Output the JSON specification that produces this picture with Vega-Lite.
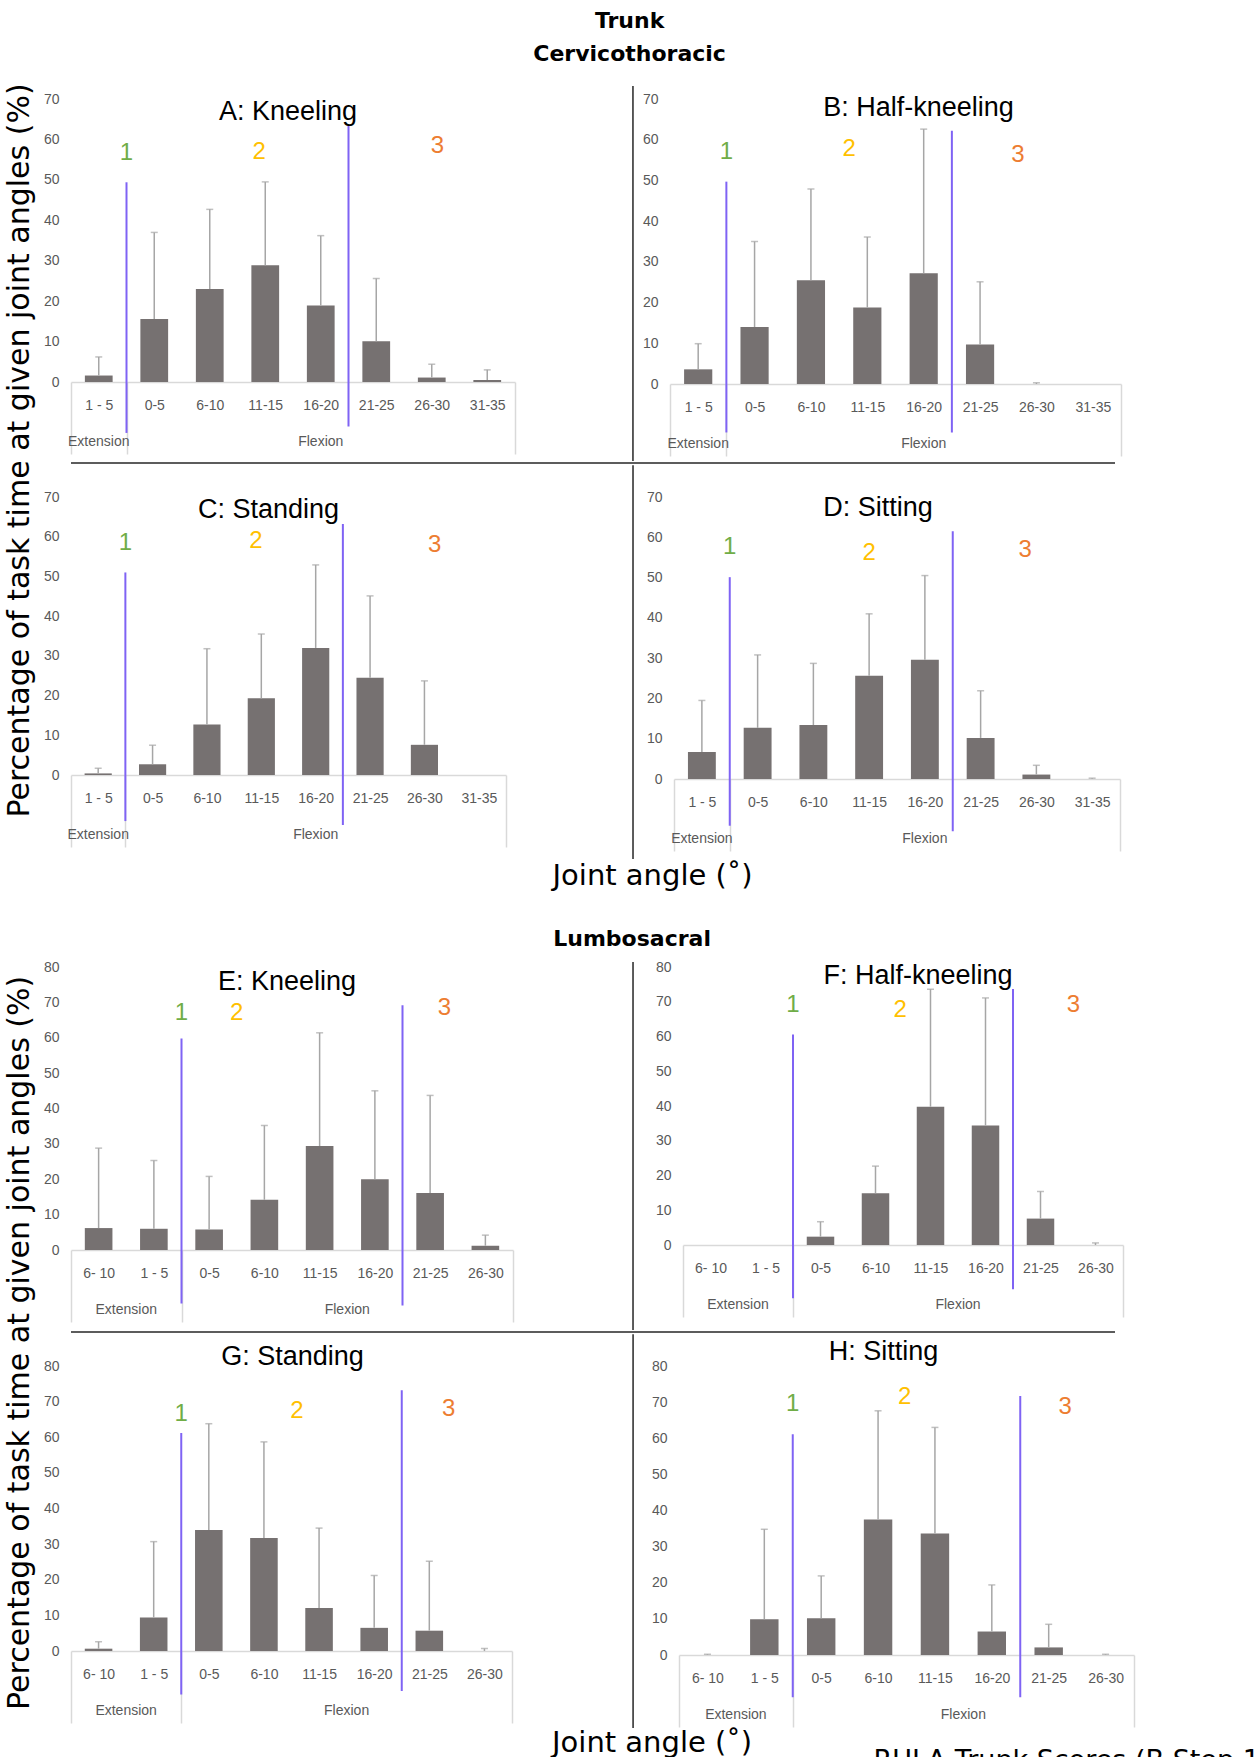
{
"$schema": "https://vega.github.io/schema/vega-lite/v6.json",
"background": "white",
"padding": {"left": 5, "top": 10, "right": 5, "bottom": 0},
"title": {"text": "RULA Trunk Scores (B Step 1)", "orient": "bottom", "anchor": "start", "frame": "bounds", "dx": 868, "offset": -10, "font": "DejaVu Sans", "fontSize": 27, "fontWeight": "normal", "color": "#000000"},
"config": {
  "view": {"stroke": null},
  "axis": {"labelFont": "Liberation Sans", "labelColor": "#595959", "grid": false},
  "axisX": {"labelFontSize": 14, "labelAngle": 0, "labelPadding": -56, "domainColor": "#d9d9d9", "domainWidth": 1.5, "tickColor": "#d9d9d9", "tickWidth": 1.5, "tickSize": 72, "tickBand": "extent"},
  "axisY": {"labelFontSize": 14, "labelPadding": 12, "domain": false, "ticks": false, "labelOverlap": false},
  "bar": {"color": "#767171"},
  "title": {"font": "Liberation Sans", "fontSize": 27, "fontWeight": "normal", "color": "#000000", "frame": "group", "anchor": "middle"},
  "text": {"font": "Liberation Sans", "fontSize": 14, "color": "#595959"}
},
"datasets": {
  "A": [
    {"cat": "1 - 5", "mean": 1.6, "err": 6.2, "glabel": "Extension"},
    {"cat": "0-5", "mean": 15.6, "err": 37.0, "glabel": ""},
    {"cat": "6-10", "mean": 23.0, "err": 42.7, "glabel": ""},
    {"cat": "11-15", "mean": 28.9, "err": 49.5, "glabel": ""},
    {"cat": "16-20", "mean": 18.9, "err": 36.2, "glabel": "Flexion"},
    {"cat": "21-25", "mean": 10.1, "err": 25.6, "glabel": ""},
    {"cat": "26-30", "mean": 1.1, "err": 4.4, "glabel": ""},
    {"cat": "31-35", "mean": 0.5, "err": 3.0, "glabel": ""}
  ],
  "B": [
    {"cat": "1 - 5", "mean": 3.6, "err": 9.9, "glabel": "Extension"},
    {"cat": "0-5", "mean": 14.0, "err": 35.0, "glabel": ""},
    {"cat": "6-10", "mean": 25.5, "err": 47.9, "glabel": ""},
    {"cat": "11-15", "mean": 18.8, "err": 36.1, "glabel": ""},
    {"cat": "16-20", "mean": 27.2, "err": 62.6, "glabel": "Flexion"},
    {"cat": "21-25", "mean": 9.7, "err": 25.1, "glabel": ""},
    {"cat": "26-30", "mean": 0, "err": 0.3, "glabel": ""},
    {"cat": "31-35", "mean": 0, "err": null, "glabel": ""}
  ],
  "C": [
    {"cat": "1 - 5", "mean": 0.4, "err": 1.7, "glabel": "Extension"},
    {"cat": "0-5", "mean": 2.7, "err": 7.5, "glabel": ""},
    {"cat": "6-10", "mean": 12.7, "err": 31.8, "glabel": ""},
    {"cat": "11-15", "mean": 19.3, "err": 35.5, "glabel": ""},
    {"cat": "16-20", "mean": 32.0, "err": 52.9, "glabel": "Flexion"},
    {"cat": "21-25", "mean": 24.5, "err": 45.1, "glabel": ""},
    {"cat": "26-30", "mean": 7.6, "err": 23.7, "glabel": ""},
    {"cat": "31-35", "mean": 0, "err": null, "glabel": ""}
  ],
  "D": [
    {"cat": "1 - 5", "mean": 6.7, "err": 19.5, "glabel": "Extension"},
    {"cat": "0-5", "mean": 12.7, "err": 30.8, "glabel": ""},
    {"cat": "6-10", "mean": 13.4, "err": 28.7, "glabel": ""},
    {"cat": "11-15", "mean": 25.6, "err": 41.0, "glabel": ""},
    {"cat": "16-20", "mean": 29.6, "err": 50.5, "glabel": "Flexion"},
    {"cat": "21-25", "mean": 10.2, "err": 21.9, "glabel": ""},
    {"cat": "26-30", "mean": 1.1, "err": 3.4, "glabel": ""},
    {"cat": "31-35", "mean": 0, "err": 0.2, "glabel": ""}
  ],
  "E": [
    {"cat": "6- 10", "mean": 6.2, "err": 28.8, "glabel": "Extension"},
    {"cat": "1 - 5", "mean": 6.0, "err": 25.3, "glabel": ""},
    {"cat": "0-5", "mean": 5.8, "err": 20.8, "glabel": ""},
    {"cat": "6-10", "mean": 14.2, "err": 35.2, "glabel": ""},
    {"cat": "11-15", "mean": 29.4, "err": 61.4, "glabel": "Flexion"},
    {"cat": "16-20", "mean": 20.0, "err": 45.0, "glabel": ""},
    {"cat": "21-25", "mean": 16.1, "err": 43.7, "glabel": ""},
    {"cat": "26-30", "mean": 1.2, "err": 4.2, "glabel": ""}
  ],
  "F": [
    {"cat": "6- 10", "mean": 0, "err": null, "glabel": "Extension"},
    {"cat": "1 - 5", "mean": 0, "err": null, "glabel": ""},
    {"cat": "0-5", "mean": 2.4, "err": 6.7, "glabel": ""},
    {"cat": "6-10", "mean": 14.9, "err": 22.7, "glabel": ""},
    {"cat": "11-15", "mean": 39.8, "err": 73.6, "glabel": "Flexion"},
    {"cat": "16-20", "mean": 34.4, "err": 71.1, "glabel": ""},
    {"cat": "21-25", "mean": 7.6, "err": 15.4, "glabel": ""},
    {"cat": "26-30", "mean": 0, "err": 0.6, "glabel": ""}
  ],
  "G": [
    {"cat": "6- 10", "mean": 0.65, "err": 2.6, "glabel": "Extension"},
    {"cat": "1 - 5", "mean": 9.4, "err": 30.7, "glabel": ""},
    {"cat": "0-5", "mean": 34.0, "err": 63.8, "glabel": ""},
    {"cat": "6-10", "mean": 31.7, "err": 58.7, "glabel": ""},
    {"cat": "11-15", "mean": 12.1, "err": 34.5, "glabel": "Flexion"},
    {"cat": "16-20", "mean": 6.5, "err": 21.2, "glabel": ""},
    {"cat": "21-25", "mean": 5.7, "err": 25.2, "glabel": ""},
    {"cat": "26-30", "mean": 0, "err": 0.7, "glabel": ""}
  ],
  "H": [
    {"cat": "6- 10", "mean": 0, "err": 0.2, "glabel": "Extension"},
    {"cat": "1 - 5", "mean": 9.9, "err": 34.8, "glabel": ""},
    {"cat": "0-5", "mean": 10.2, "err": 21.9, "glabel": ""},
    {"cat": "6-10", "mean": 37.5, "err": 67.6, "glabel": ""},
    {"cat": "11-15", "mean": 33.6, "err": 63.0, "glabel": "Flexion"},
    {"cat": "16-20", "mean": 6.5, "err": 19.4, "glabel": ""},
    {"cat": "21-25", "mean": 2.1, "err": 8.5, "glabel": ""},
    {"cat": "26-30", "mean": 0, "err": 0.2, "glabel": ""}
  ]
},
"spacing": 37,
"vconcat": [
{
  "title": {"text": "Percentage of task time at given joint angles (%)", "orient": "left", "font": "DejaVu Sans", "fontSize": 30, "fontWeight": "normal", "frame": "bounds", "anchor": "middle", "offset": 8},
  "vconcat": [{
    "title": {"text": ["Trunk", "Cervicothoracic"], "font": "DejaVu Sans", "fontSize": 22, "fontWeight": "bold", "lineHeight": 33, "frame": "bounds", "anchor": "middle", "dx": 47, "offset": 19},
    "vconcat": [{
      "title": {"text": "Joint angle (˚)", "orient": "bottom", "font": "DejaVu Sans", "fontSize": 29, "fontWeight": "normal", "frame": "bounds", "anchor": "middle", "dx": 70, "offset": 2},
      "spacing": 0,
      "vconcat": [
        {"hconcat": [
          {"width": 444, "height": 283, "title": {"text": "A: Kneeling", "offset": -34, "dx": -5}, "data": {"name": "A"},
           "layer": [
            {"mark": {"type": "bar", "width": {"band": 0.5}}, "encoding": {
              "x": {"field": "cat", "type": "nominal", "scale": {"domain": ["1 - 5","0-5","6-10","11-15","16-20","21-25","26-30","31-35"], "paddingInner": 0, "paddingOuter": 0}, "axis": {"title": null, "tickOpacity": {"condition": {"test": "datum.value == null || datum.value === '1 - 5' || datum.index === 1", "value": 1}, "value": 0}}},
              "y": {"field": "mean", "type": "quantitative", "scale": {"domain": [0, 70]}, "axis": {"title": null, "tickCount": 12, "values": [0,10,20,30,40,50,60,70]}}}},
            {"transform": [{"filter": "isValid(datum.err)"}], "mark": {"type": "rule", "color": "#a6a6a6", "strokeWidth": 1.5}, "encoding": {"x": {"field": "cat", "type": "nominal"}, "y": {"field": "mean", "type": "quantitative"}, "y2": {"field": "err"}}},
            {"transform": [{"filter": "isValid(datum.err)"}], "mark": {"type": "tick", "orient": "horizontal", "size": 7, "thickness": 1.5, "color": "#a6a6a6"}, "encoding": {"x": {"field": "cat", "type": "nominal"}, "y": {"field": "err", "type": "quantitative"}}},
            {"mark": {"type": "text"}, "encoding": {"x": {"field": "cat", "type": "nominal", "bandPosition": 0.5}, "y": {"datum": -14.8, "type": "quantitative"}, "text": {"field": "glabel"}}},
            {"data": {"values": [{}]}, "layer": [
              {"mark": {"type": "rule", "color": "#7f63f4", "strokeWidth": 2}, "encoding": {"x": {"datum": "1 - 5", "type": "nominal", "bandPosition": 1}, "y": {"datum": 49.4, "type": "quantitative"}, "y2": {"datum": -12.6}}},
              {"mark": {"type": "rule", "color": "#7f63f4", "strokeWidth": 2}, "encoding": {"x": {"datum": "16-20", "type": "nominal", "bandPosition": 1}, "y": {"datum": 63.3, "type": "quantitative"}, "y2": {"datum": -11.0}}},
              {"mark": {"type": "text", "font": "Liberation Sans", "fontSize": 24, "color": "#70ad47"}, "encoding": {"x": {"datum": "1 - 5", "type": "nominal", "bandPosition": 1}, "y": {"datum": 56.6, "type": "quantitative"}, "text": {"value": "1"}}},
              {"mark": {"type": "text", "font": "Liberation Sans", "fontSize": 24, "color": "#ffc000"}, "encoding": {"x": {"datum": "11-15", "type": "nominal", "bandPosition": 0.39}, "y": {"datum": 57.0, "type": "quantitative"}, "text": {"value": "2"}}},
              {"mark": {"type": "text", "font": "Liberation Sans", "fontSize": 24, "color": "#ed7d31"}, "encoding": {"x": {"datum": "26-30", "type": "nominal", "bandPosition": 0.6}, "y": {"datum": 58.4, "type": "quantitative"}, "text": {"value": "3"}}}
            ]}
          ]},
          {"width": 155, "height": 362, "data": {"values": [{}]}, "mark": {"type": "rule", "color": "#262626", "strokeWidth": 1.5}, "encoding": {"x": {"datum": 0.761, "type": "quantitative", "scale": {"domain": [0, 1]}, "axis": null}, "y": {"datum": 1.036, "type": "quantitative", "scale": {"domain": [0, 1]}, "axis": null}, "y2": {"datum": 0}}},
          {"width": 451, "height": 285, "title": {"text": "B: Half-kneeling", "offset": -30, "dx": 23}, "data": {"name": "B"},
           "layer": [
            {"mark": {"type": "bar", "width": {"band": 0.5}}, "encoding": {
              "x": {"field": "cat", "type": "nominal", "scale": {"domain": ["1 - 5","0-5","6-10","11-15","16-20","21-25","26-30","31-35"], "paddingInner": 0, "paddingOuter": 0}, "axis": {"title": null, "tickOpacity": {"condition": {"test": "datum.value == null || datum.value === '1 - 5' || datum.index === 1", "value": 1}, "value": 0}}},
              "y": {"field": "mean", "type": "quantitative", "scale": {"domain": [0, 70]}, "axis": {"title": null, "tickCount": 12, "values": [0,10,20,30,40,50,60,70]}}}},
            {"transform": [{"filter": "isValid(datum.err)"}], "mark": {"type": "rule", "color": "#a6a6a6", "strokeWidth": 1.5}, "encoding": {"x": {"field": "cat", "type": "nominal"}, "y": {"field": "mean", "type": "quantitative"}, "y2": {"field": "err"}}},
            {"transform": [{"filter": "isValid(datum.err)"}], "mark": {"type": "tick", "orient": "horizontal", "size": 7, "thickness": 1.5, "color": "#a6a6a6"}, "encoding": {"x": {"field": "cat", "type": "nominal"}, "y": {"field": "err", "type": "quantitative"}}},
            {"mark": {"type": "text"}, "encoding": {"x": {"field": "cat", "type": "nominal", "bandPosition": 0.5}, "y": {"datum": -14.7, "type": "quantitative"}, "text": {"field": "glabel"}}},
            {"data": {"values": [{}]}, "layer": [
              {"mark": {"type": "rule", "color": "#7f63f4", "strokeWidth": 2}, "encoding": {"x": {"datum": "1 - 5", "type": "nominal", "bandPosition": 1}, "y": {"datum": 49.7, "type": "quantitative"}, "y2": {"datum": -11.9}}},
              {"mark": {"type": "rule", "color": "#7f63f4", "strokeWidth": 2}, "encoding": {"x": {"datum": "16-20", "type": "nominal", "bandPosition": 1}, "y": {"datum": 62.2, "type": "quantitative"}, "y2": {"datum": -11.9}}},
              {"mark": {"type": "text", "font": "Liberation Sans", "fontSize": 24, "color": "#70ad47"}, "encoding": {"x": {"datum": "1 - 5", "type": "nominal", "bandPosition": 1}, "y": {"datum": 56.9, "type": "quantitative"}, "text": {"value": "1"}}},
              {"mark": {"type": "text", "font": "Liberation Sans", "fontSize": 24, "color": "#ffc000"}, "encoding": {"x": {"datum": "11-15", "type": "nominal", "bandPosition": 0.18}, "y": {"datum": 57.6, "type": "quantitative"}, "text": {"value": "2"}}},
              {"mark": {"type": "text", "font": "Liberation Sans", "fontSize": 24, "color": "#ed7d31"}, "encoding": {"x": {"datum": "26-30", "type": "nominal", "bandPosition": 0.17}, "y": {"datum": 56.3, "type": "quantitative"}, "text": {"value": "3"}}}
            ]}
          ]}
        ], "spacing": 0, "bounds": "flush"},
        {"width": 1044, "height": 1, "data": {"values": [{}]}, "mark": {"type": "rule", "color": "#262626", "strokeWidth": 1.5}, "encoding": {"x": {"datum": 0, "type": "quantitative", "scale": {"domain": [0, 1]}, "axis": null}, "x2": {"datum": 1}, "y": {"datum": 1, "type": "quantitative", "scale": {"domain": [0, 1]}, "axis": null}}},
        {"hconcat": [
          {"width": 435, "height": 278, "title": {"text": "C: Standing", "offset": -34, "dx": -20}, "data": {"name": "C"},
           "layer": [
            {"mark": {"type": "bar", "width": {"band": 0.5}}, "encoding": {
              "x": {"field": "cat", "type": "nominal", "scale": {"domain": ["1 - 5","0-5","6-10","11-15","16-20","21-25","26-30","31-35"], "paddingInner": 0, "paddingOuter": 0}, "axis": {"title": null, "tickOpacity": {"condition": {"test": "datum.value == null || datum.value === '1 - 5' || datum.index === 1", "value": 1}, "value": 0}}},
              "y": {"field": "mean", "type": "quantitative", "scale": {"domain": [0, 70]}, "axis": {"title": null, "tickCount": 12, "values": [0,10,20,30,40,50,60,70]}}}},
            {"transform": [{"filter": "isValid(datum.err)"}], "mark": {"type": "rule", "color": "#a6a6a6", "strokeWidth": 1.5}, "encoding": {"x": {"field": "cat", "type": "nominal"}, "y": {"field": "mean", "type": "quantitative"}, "y2": {"field": "err"}}},
            {"transform": [{"filter": "isValid(datum.err)"}], "mark": {"type": "tick", "orient": "horizontal", "size": 7, "thickness": 1.5, "color": "#a6a6a6"}, "encoding": {"x": {"field": "cat", "type": "nominal"}, "y": {"field": "err", "type": "quantitative"}}},
            {"mark": {"type": "text"}, "encoding": {"x": {"field": "cat", "type": "nominal", "bandPosition": 0.5}, "y": {"datum": -15.1, "type": "quantitative"}, "text": {"field": "glabel"}}},
            {"data": {"values": [{}]}, "layer": [
              {"mark": {"type": "rule", "color": "#7f63f4", "strokeWidth": 2}, "encoding": {"x": {"datum": "1 - 5", "type": "nominal", "bandPosition": 1}, "y": {"datum": 51.0, "type": "quantitative"}, "y2": {"datum": -11.6}}},
              {"mark": {"type": "rule", "color": "#7f63f4", "strokeWidth": 2}, "encoding": {"x": {"datum": "16-20", "type": "nominal", "bandPosition": 1}, "y": {"datum": 63.2, "type": "quantitative"}, "y2": {"datum": -12.6}}},
              {"mark": {"type": "text", "font": "Liberation Sans", "fontSize": 24, "color": "#70ad47"}, "encoding": {"x": {"datum": "1 - 5", "type": "nominal", "bandPosition": 1}, "y": {"datum": 58.5, "type": "quantitative"}, "text": {"value": "1"}}},
              {"mark": {"type": "text", "font": "Liberation Sans", "fontSize": 24, "color": "#ffc000"}, "encoding": {"x": {"datum": "11-15", "type": "nominal", "bandPosition": 0.4}, "y": {"datum": 58.8, "type": "quantitative"}, "text": {"value": "2"}}},
              {"mark": {"type": "text", "font": "Liberation Sans", "fontSize": 24, "color": "#ed7d31"}, "encoding": {"x": {"datum": "26-30", "type": "nominal", "bandPosition": 0.69}, "y": {"datum": 57.8, "type": "quantitative"}, "text": {"value": "3"}}}
            ]}
          ]},
          {"width": 168, "height": 362, "data": {"values": [{}]}, "mark": {"type": "rule", "color": "#262626", "strokeWidth": 1.5}, "encoding": {"x": {"datum": 0.756, "type": "quantitative", "scale": {"domain": [0, 1]}, "axis": null}, "y": {"datum": 1.088, "type": "quantitative", "scale": {"domain": [0, 1]}, "axis": null}, "y2": {"datum": 0}}},
          {"width": 446, "height": 282, "title": {"text": "D: Sitting", "offset": -32, "dx": -19}, "data": {"name": "D"},
           "layer": [
            {"mark": {"type": "bar", "width": {"band": 0.5}}, "encoding": {
              "x": {"field": "cat", "type": "nominal", "scale": {"domain": ["1 - 5","0-5","6-10","11-15","16-20","21-25","26-30","31-35"], "paddingInner": 0, "paddingOuter": 0}, "axis": {"title": null, "tickOpacity": {"condition": {"test": "datum.value == null || datum.value === '1 - 5' || datum.index === 1", "value": 1}, "value": 0}}},
              "y": {"field": "mean", "type": "quantitative", "scale": {"domain": [0, 70]}, "axis": {"title": null, "tickCount": 12, "values": [0,10,20,30,40,50,60,70]}}}},
            {"transform": [{"filter": "isValid(datum.err)"}], "mark": {"type": "rule", "color": "#a6a6a6", "strokeWidth": 1.5}, "encoding": {"x": {"field": "cat", "type": "nominal"}, "y": {"field": "mean", "type": "quantitative"}, "y2": {"field": "err"}}},
            {"transform": [{"filter": "isValid(datum.err)"}], "mark": {"type": "tick", "orient": "horizontal", "size": 7, "thickness": 1.5, "color": "#a6a6a6"}, "encoding": {"x": {"field": "cat", "type": "nominal"}, "y": {"field": "err", "type": "quantitative"}}},
            {"mark": {"type": "text"}, "encoding": {"x": {"field": "cat", "type": "nominal", "bandPosition": 0.5}, "y": {"datum": -14.9, "type": "quantitative"}, "text": {"field": "glabel"}}},
            {"data": {"values": [{}]}, "layer": [
              {"mark": {"type": "rule", "color": "#7f63f4", "strokeWidth": 2}, "encoding": {"x": {"datum": "1 - 5", "type": "nominal", "bandPosition": 1}, "y": {"datum": 50.1, "type": "quantitative"}, "y2": {"datum": -11.6}}},
              {"mark": {"type": "rule", "color": "#7f63f4", "strokeWidth": 2}, "encoding": {"x": {"datum": "16-20", "type": "nominal", "bandPosition": 1}, "y": {"datum": 61.5, "type": "quantitative"}, "y2": {"datum": -13.0}}},
              {"mark": {"type": "text", "font": "Liberation Sans", "fontSize": 24, "color": "#70ad47"}, "encoding": {"x": {"datum": "1 - 5", "type": "nominal", "bandPosition": 1}, "y": {"datum": 57.5, "type": "quantitative"}, "text": {"value": "1"}}},
              {"mark": {"type": "text", "font": "Liberation Sans", "fontSize": 24, "color": "#ffc000"}, "encoding": {"x": {"datum": "11-15", "type": "nominal", "bandPosition": 0.5}, "y": {"datum": 56.0, "type": "quantitative"}, "text": {"value": "2"}}},
              {"mark": {"type": "text", "font": "Liberation Sans", "fontSize": 24, "color": "#ed7d31"}, "encoding": {"x": {"datum": "26-30", "type": "nominal", "bandPosition": 0.3}, "y": {"datum": 56.8, "type": "quantitative"}, "text": {"value": "3"}}}
            ]}
          ]}
        ], "spacing": 0, "bounds": "flush"}
      ]
    }]
  }]
},
{
  "title": {"text": "Percentage of task time at given joint angles (%)", "orient": "left", "font": "DejaVu Sans", "fontSize": 30, "fontWeight": "normal", "frame": "bounds", "anchor": "middle", "offset": 8},
  "vconcat": [{
    "title": {"text": "Lumbosacral", "font": "DejaVu Sans", "fontSize": 22, "fontWeight": "bold", "frame": "bounds", "anchor": "middle", "dx": 43, "offset": 9},
    "vconcat": [{
      "title": {"text": "Joint angle (˚)", "orient": "bottom", "font": "DejaVu Sans", "fontSize": 29, "fontWeight": "normal", "frame": "bounds", "anchor": "middle", "dx": 63, "offset": 0},
      "spacing": 0,
      "vconcat": [
        {"hconcat": [
          {"width": 442, "height": 283, "title": {"text": "E: Kneeling", "offset": -36, "dx": -5}, "data": {"name": "E"},
           "layer": [
            {"mark": {"type": "bar", "width": {"band": 0.5}}, "encoding": {
              "x": {"field": "cat", "type": "nominal", "scale": {"domain": ["6- 10","1 - 5","0-5","6-10","11-15","16-20","21-25","26-30"], "paddingInner": 0, "paddingOuter": 0}, "axis": {"title": null, "tickOpacity": {"condition": {"test": "datum.value == null || datum.value === '1 - 5' || datum.index === 1", "value": 1}, "value": 0}}},
              "y": {"field": "mean", "type": "quantitative", "scale": {"domain": [0, 80]}, "axis": {"title": null, "tickCount": 12, "values": [0,10,20,30,40,50,60,70,80]}}}},
            {"transform": [{"filter": "isValid(datum.err)"}], "mark": {"type": "rule", "color": "#a6a6a6", "strokeWidth": 1.5}, "encoding": {"x": {"field": "cat", "type": "nominal"}, "y": {"field": "mean", "type": "quantitative"}, "y2": {"field": "err"}}},
            {"transform": [{"filter": "isValid(datum.err)"}], "mark": {"type": "tick", "orient": "horizontal", "size": 7, "thickness": 1.5, "color": "#a6a6a6"}, "encoding": {"x": {"field": "cat", "type": "nominal"}, "y": {"field": "err", "type": "quantitative"}}},
            {"mark": {"type": "text"}, "encoding": {"x": {"field": "cat", "type": "nominal", "bandPosition": 1}, "y": {"datum": -17.0, "type": "quantitative"}, "text": {"field": "glabel"}}},
            {"data": {"values": [{}]}, "layer": [
              {"mark": {"type": "rule", "color": "#7f63f4", "strokeWidth": 2}, "encoding": {"x": {"datum": "1 - 5", "type": "nominal", "bandPosition": 1}, "y": {"datum": 59.8, "type": "quantitative"}, "y2": {"datum": -15.1}}},
              {"mark": {"type": "rule", "color": "#7f63f4", "strokeWidth": 2}, "encoding": {"x": {"datum": "16-20", "type": "nominal", "bandPosition": 1}, "y": {"datum": 69.2, "type": "quantitative"}, "y2": {"datum": -15.7}}},
              {"mark": {"type": "text", "font": "Liberation Sans", "fontSize": 24, "color": "#70ad47"}, "encoding": {"x": {"datum": "1 - 5", "type": "nominal", "bandPosition": 1}, "y": {"datum": 67.1, "type": "quantitative"}, "text": {"value": "1"}}},
              {"mark": {"type": "text", "font": "Liberation Sans", "fontSize": 24, "color": "#ffc000"}, "encoding": {"x": {"datum": "6-10", "type": "nominal", "bandPosition": 0}, "y": {"datum": 67.1, "type": "quantitative"}, "text": {"value": "2"}}},
              {"mark": {"type": "text", "font": "Liberation Sans", "fontSize": 24, "color": "#ed7d31"}, "encoding": {"x": {"datum": "21-25", "type": "nominal", "bandPosition": 0.76}, "y": {"datum": 68.3, "type": "quantitative"}, "text": {"value": "3"}}}
            ]}
          ]},
          {"width": 170, "height": 363, "data": {"values": [{}]}, "mark": {"type": "rule", "color": "#262626", "strokeWidth": 1.5}, "encoding": {"x": {"datum": 0.706, "type": "quantitative", "scale": {"domain": [0, 1]}, "axis": null}, "y": {"datum": 1.014, "type": "quantitative", "scale": {"domain": [0, 1]}, "axis": null}, "y2": {"datum": 0}}},
          {"width": 440, "height": 278, "title": {"text": "F: Half-kneeling", "offset": -30, "dx": 15}, "data": {"name": "F"},
           "layer": [
            {"mark": {"type": "bar", "width": {"band": 0.5}}, "encoding": {
              "x": {"field": "cat", "type": "nominal", "scale": {"domain": ["6- 10","1 - 5","0-5","6-10","11-15","16-20","21-25","26-30"], "paddingInner": 0, "paddingOuter": 0}, "axis": {"title": null, "tickOpacity": {"condition": {"test": "datum.value == null || datum.value === '1 - 5' || datum.index === 1", "value": 1}, "value": 0}}},
              "y": {"field": "mean", "type": "quantitative", "scale": {"domain": [0, 80]}, "axis": {"title": null, "tickCount": 12, "values": [0,10,20,30,40,50,60,70,80]}}}},
            {"transform": [{"filter": "isValid(datum.err)"}], "mark": {"type": "rule", "color": "#a6a6a6", "strokeWidth": 1.5}, "encoding": {"x": {"field": "cat", "type": "nominal"}, "y": {"field": "mean", "type": "quantitative"}, "y2": {"field": "err"}}},
            {"transform": [{"filter": "isValid(datum.err)"}], "mark": {"type": "tick", "orient": "horizontal", "size": 7, "thickness": 1.5, "color": "#a6a6a6"}, "encoding": {"x": {"field": "cat", "type": "nominal"}, "y": {"field": "err", "type": "quantitative"}}},
            {"mark": {"type": "text"}, "encoding": {"x": {"field": "cat", "type": "nominal", "bandPosition": 1}, "y": {"datum": -17.3, "type": "quantitative"}, "text": {"field": "glabel"}}},
            {"data": {"values": [{}]}, "layer": [
              {"mark": {"type": "rule", "color": "#7f63f4", "strokeWidth": 2}, "encoding": {"x": {"datum": "1 - 5", "type": "nominal", "bandPosition": 1}, "y": {"datum": 60.6, "type": "quantitative"}, "y2": {"datum": -15.3}}},
              {"mark": {"type": "rule", "color": "#7f63f4", "strokeWidth": 2}, "encoding": {"x": {"datum": "16-20", "type": "nominal", "bandPosition": 1}, "y": {"datum": 73.7, "type": "quantitative"}, "y2": {"datum": -12.7}}},
              {"mark": {"type": "text", "font": "Liberation Sans", "fontSize": 24, "color": "#70ad47"}, "encoding": {"x": {"datum": "1 - 5", "type": "nominal", "bandPosition": 1}, "y": {"datum": 69.2, "type": "quantitative"}, "text": {"value": "1"}}},
              {"mark": {"type": "text", "font": "Liberation Sans", "fontSize": 24, "color": "#ffc000"}, "encoding": {"x": {"datum": "6-10", "type": "nominal", "bandPosition": 0.95}, "y": {"datum": 67.7, "type": "quantitative"}, "text": {"value": "2"}}},
              {"mark": {"type": "text", "font": "Liberation Sans", "fontSize": 24, "color": "#ed7d31"}, "encoding": {"x": {"datum": "26-30", "type": "nominal", "bandPosition": 0.1}, "y": {"datum": 69.2, "type": "quantitative"}, "text": {"value": "3"}}}
            ]}
          ]}
        ], "spacing": 0, "bounds": "flush"},
        {"width": 1044, "height": 1, "data": {"values": [{}]}, "mark": {"type": "rule", "color": "#262626", "strokeWidth": 1.5}, "encoding": {"x": {"datum": 0, "type": "quantitative", "scale": {"domain": [0, 1]}, "axis": null}, "x2": {"datum": 1}, "y": {"datum": 1, "type": "quantitative", "scale": {"domain": [0, 1]}, "axis": null}}},
        {"hconcat": [
          {"width": 441, "height": 285, "title": {"text": "G: Standing", "offset": -12, "dx": 1}, "data": {"name": "G"},
           "layer": [
            {"mark": {"type": "bar", "width": {"band": 0.5}}, "encoding": {
              "x": {"field": "cat", "type": "nominal", "scale": {"domain": ["6- 10","1 - 5","0-5","6-10","11-15","16-20","21-25","26-30"], "paddingInner": 0, "paddingOuter": 0}, "axis": {"title": null, "tickOpacity": {"condition": {"test": "datum.value == null || datum.value === '1 - 5' || datum.index === 1", "value": 1}, "value": 0}}},
              "y": {"field": "mean", "type": "quantitative", "scale": {"domain": [0, 80]}, "axis": {"title": null, "tickCount": 12, "values": [0,10,20,30,40,50,60,70,80]}}}},
            {"transform": [{"filter": "isValid(datum.err)"}], "mark": {"type": "rule", "color": "#a6a6a6", "strokeWidth": 1.5}, "encoding": {"x": {"field": "cat", "type": "nominal"}, "y": {"field": "mean", "type": "quantitative"}, "y2": {"field": "err"}}},
            {"transform": [{"filter": "isValid(datum.err)"}], "mark": {"type": "tick", "orient": "horizontal", "size": 7, "thickness": 1.5, "color": "#a6a6a6"}, "encoding": {"x": {"field": "cat", "type": "nominal"}, "y": {"field": "err", "type": "quantitative"}}},
            {"mark": {"type": "text"}, "encoding": {"x": {"field": "cat", "type": "nominal", "bandPosition": 1}, "y": {"datum": -16.8, "type": "quantitative"}, "text": {"field": "glabel"}}},
            {"data": {"values": [{}]}, "layer": [
              {"mark": {"type": "rule", "color": "#7f63f4", "strokeWidth": 2}, "encoding": {"x": {"datum": "1 - 5", "type": "nominal", "bandPosition": 1}, "y": {"datum": 61.2, "type": "quantitative"}, "y2": {"datum": -12.2}}},
              {"mark": {"type": "rule", "color": "#7f63f4", "strokeWidth": 2}, "encoding": {"x": {"datum": "16-20", "type": "nominal", "bandPosition": 1}, "y": {"datum": 73.2, "type": "quantitative"}, "y2": {"datum": -11.2}}},
              {"mark": {"type": "text", "font": "Liberation Sans", "fontSize": 24, "color": "#70ad47"}, "encoding": {"x": {"datum": "1 - 5", "type": "nominal", "bandPosition": 1}, "y": {"datum": 66.4, "type": "quantitative"}, "text": {"value": "1"}}},
              {"mark": {"type": "text", "font": "Liberation Sans", "fontSize": 24, "color": "#ffc000"}, "encoding": {"x": {"datum": "11-15", "type": "nominal", "bandPosition": 0.1}, "y": {"datum": 67.4, "type": "quantitative"}, "text": {"value": "2"}}},
              {"mark": {"type": "text", "font": "Liberation Sans", "fontSize": 24, "color": "#ed7d31"}, "encoding": {"x": {"datum": "21-25", "type": "nominal", "bandPosition": 0.85}, "y": {"datum": 67.8, "type": "quantitative"}, "text": {"value": "3"}}}
            ]}
          ]},
          {"width": 167, "height": 362, "data": {"values": [{}]}, "mark": {"type": "rule", "color": "#262626", "strokeWidth": 1.5}, "encoding": {"x": {"datum": 0.725, "type": "quantitative", "scale": {"domain": [0, 1]}, "axis": null}, "y": {"datum": 1.088, "type": "quantitative", "scale": {"domain": [0, 1]}, "axis": null}, "y2": {"datum": 0}}},
          {"width": 455, "height": 289, "title": {"text": "H: Sitting", "offset": -7, "dx": -23}, "data": {"name": "H"},
           "layer": [
            {"mark": {"type": "bar", "width": {"band": 0.5}}, "encoding": {
              "x": {"field": "cat", "type": "nominal", "scale": {"domain": ["6- 10","1 - 5","0-5","6-10","11-15","16-20","21-25","26-30"], "paddingInner": 0, "paddingOuter": 0}, "axis": {"title": null, "tickOpacity": {"condition": {"test": "datum.value == null || datum.value === '1 - 5' || datum.index === 1", "value": 1}, "value": 0}}},
              "y": {"field": "mean", "type": "quantitative", "scale": {"domain": [0, 80]}, "axis": {"title": null, "tickCount": 12, "values": [0,10,20,30,40,50,60,70,80]}}}},
            {"transform": [{"filter": "isValid(datum.err)"}], "mark": {"type": "rule", "color": "#a6a6a6", "strokeWidth": 1.5}, "encoding": {"x": {"field": "cat", "type": "nominal"}, "y": {"field": "mean", "type": "quantitative"}, "y2": {"field": "err"}}},
            {"transform": [{"filter": "isValid(datum.err)"}], "mark": {"type": "tick", "orient": "horizontal", "size": 7, "thickness": 1.5, "color": "#a6a6a6"}, "encoding": {"x": {"field": "cat", "type": "nominal"}, "y": {"field": "err", "type": "quantitative"}}},
            {"mark": {"type": "text"}, "encoding": {"x": {"field": "cat", "type": "nominal", "bandPosition": 1}, "y": {"datum": -16.6, "type": "quantitative"}, "text": {"field": "glabel"}}},
            {"data": {"values": [{}]}, "layer": [
              {"mark": {"type": "rule", "color": "#7f63f4", "strokeWidth": 2}, "encoding": {"x": {"datum": "1 - 5", "type": "nominal", "bandPosition": 1}, "y": {"datum": 61.1, "type": "quantitative"}, "y2": {"datum": -11.7}}},
              {"mark": {"type": "rule", "color": "#7f63f4", "strokeWidth": 2}, "encoding": {"x": {"datum": "16-20", "type": "nominal", "bandPosition": 1}, "y": {"datum": 71.7, "type": "quantitative"}, "y2": {"datum": -11.7}}},
              {"mark": {"type": "text", "font": "Liberation Sans", "fontSize": 24, "color": "#70ad47"}, "encoding": {"x": {"datum": "1 - 5", "type": "nominal", "bandPosition": 1}, "y": {"datum": 69.5, "type": "quantitative"}, "text": {"value": "1"}}},
              {"mark": {"type": "text", "font": "Liberation Sans", "fontSize": 24, "color": "#ffc000"}, "encoding": {"x": {"datum": "6-10", "type": "nominal", "bandPosition": 0.97}, "y": {"datum": 71.3, "type": "quantitative"}, "text": {"value": "2"}}},
              {"mark": {"type": "text", "font": "Liberation Sans", "fontSize": 24, "color": "#ed7d31"}, "encoding": {"x": {"datum": "21-25", "type": "nominal", "bandPosition": 0.79}, "y": {"datum": 68.7, "type": "quantitative"}, "text": {"value": "3"}}}
            ]}
          ]}
        ], "spacing": 0, "bounds": "flush"}
      ]
    }]
  }]
}
]
}
